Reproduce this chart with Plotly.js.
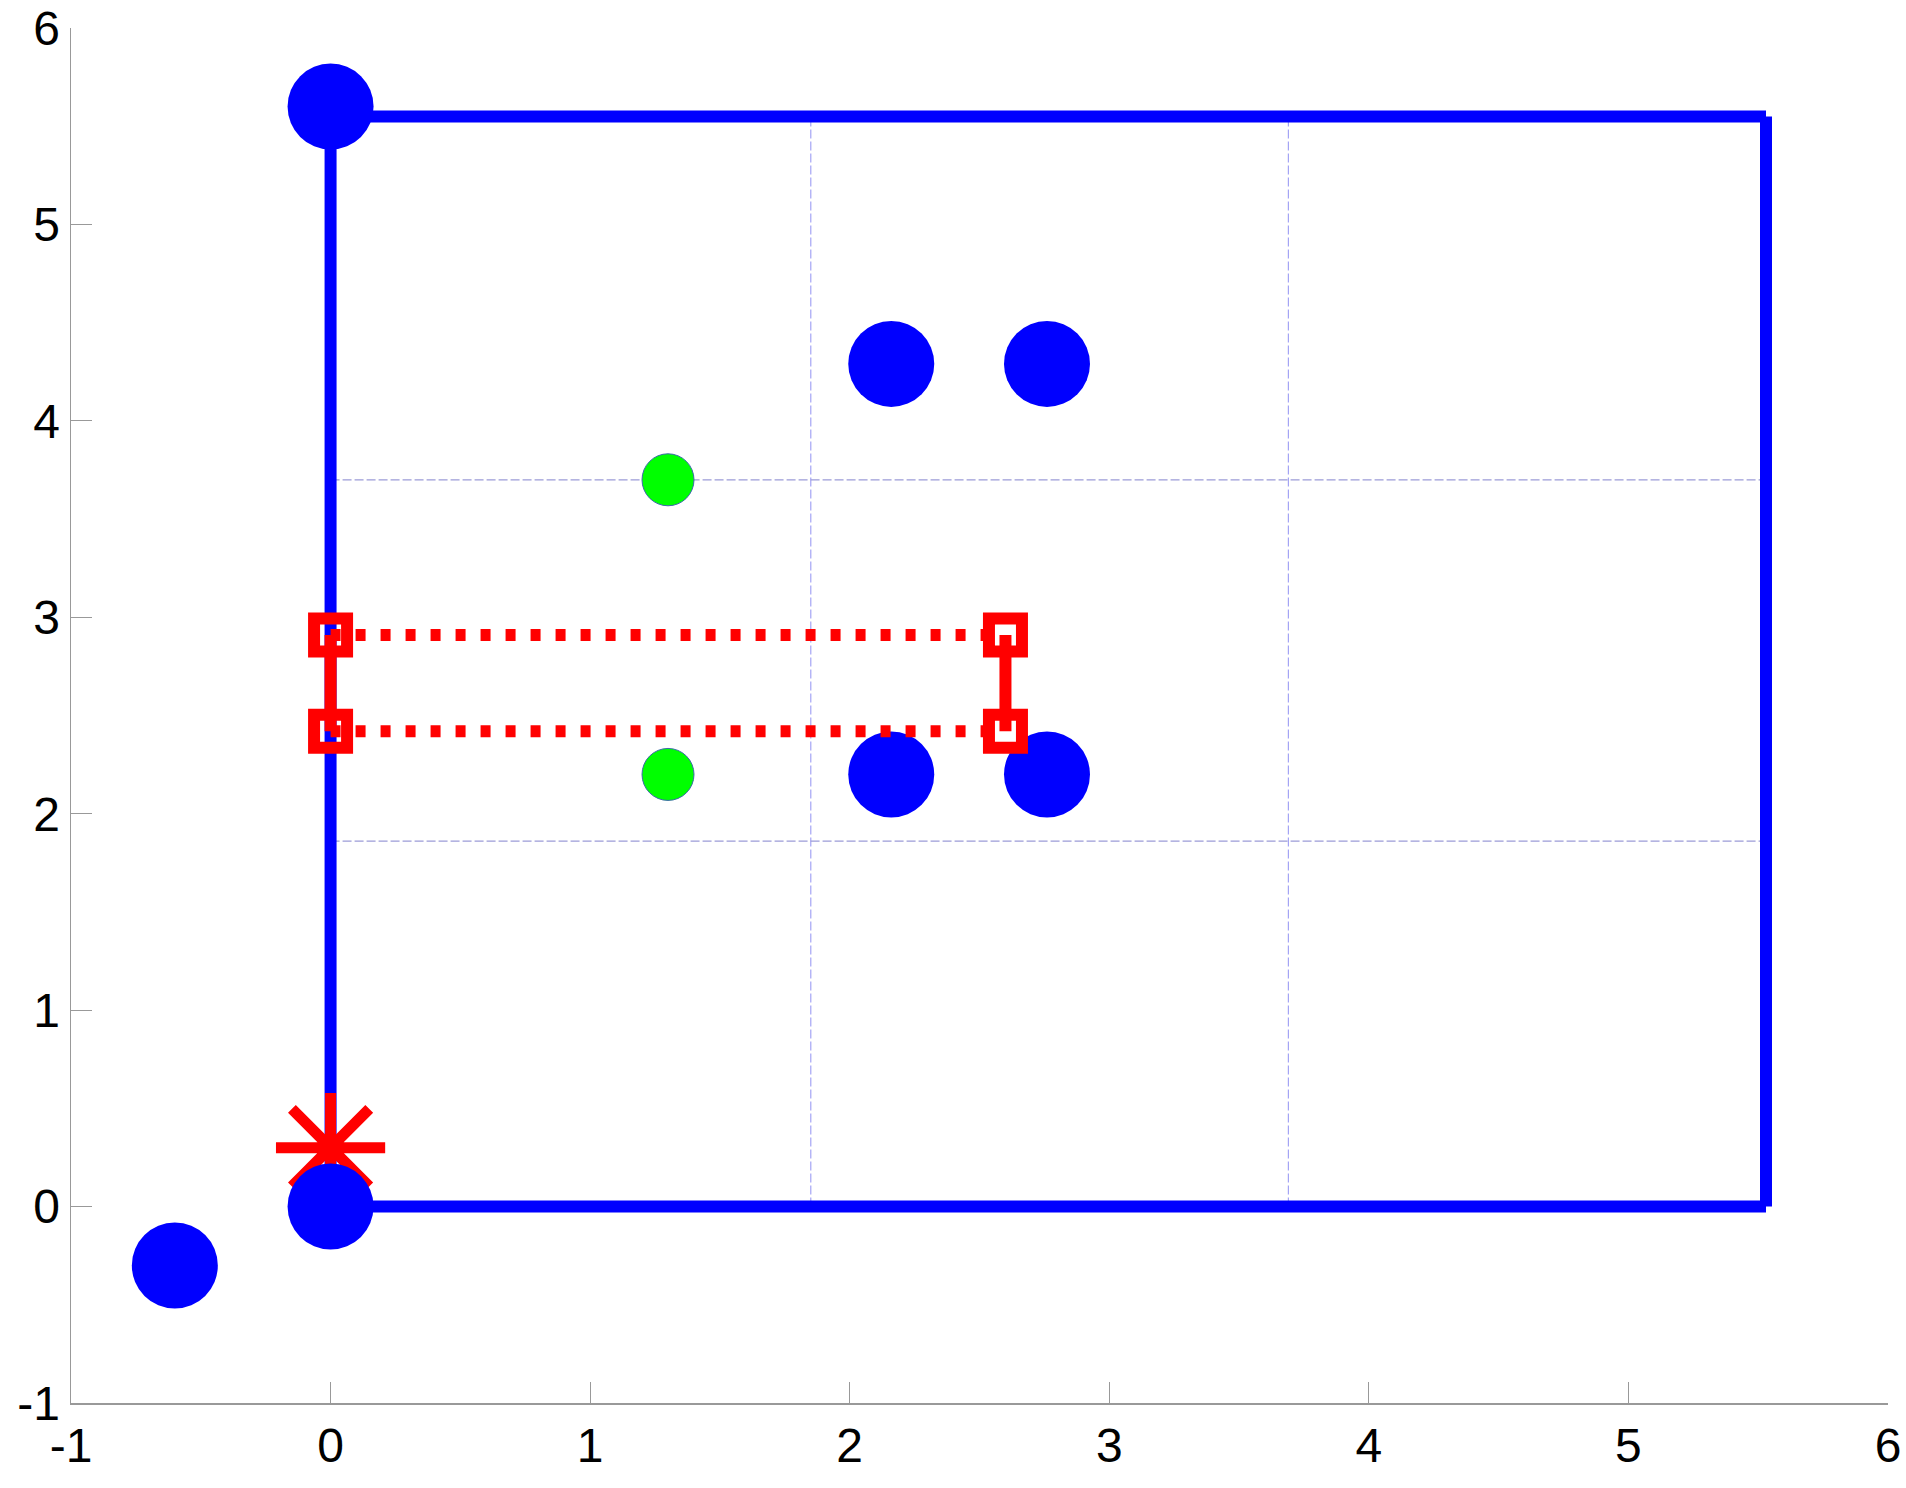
<!DOCTYPE html>
<html>
<head>
<meta charset="utf-8">
<script src="https://cdn.plot.ly/plotly-3.0.1.min.js"></script>
<style>html,body{margin:0;padding:0;background:#fff;}#chart{width:1906px;height:1488px;}</style>
</head>
<body>
<div id="chart"></div>
<script>
// Blue frame segments (null = break between segments)
const frameX = [0, 0, null, 0, 5.53, null, 5.53, 5.53, null, 0, 5.53];
const frameY = [0, 5.6, null, 5.55, 5.55, null, 5.55, 0, null, 0, 0];

// Dashed grid lines inside the frame
const gridVX = [1.85, 1.85, null, 3.69, 3.69];
const gridVY = [0, 5.55, null, 0, 5.55];
const gridHX = [0, 5.53, null, 0, 5.53];
const gridHY = [3.7, 3.7, null, 1.86, 1.86];

// Blue circles
const blueX = [0, 0, -0.6, 2.16, 2.76, 2.16, 2.76];
const blueY = [5.6, 0, -0.3, 4.29, 4.29, 2.2, 2.2];

// Green circles
const greenX = [1.3, 1.3];
const greenY = [3.7, 2.2];

// Red star
const starX = [0];
const starY = [0.3];

// Red dotted rungs and solid posts
const dotX = [0, 2.6, null, 0, 2.6];
const dotY = [2.91, 2.91, null, 2.42, 2.42];
const postX = [0, 0, null, 2.6, 2.6];
const postY = [2.42, 2.91, null, 2.42, 2.91];
const squareX = [0, 0, 2.6, 2.6];
const squareY = [2.91, 2.42, 2.91, 2.42];

const tickVals = [-1, 0, 1, 2, 3, 4, 5, 6];
const tickText = ['-1', '0', '1', '2', '3', '4', '5', '6'];

const traces = [
  {x: gridVX, y: gridVY, mode: 'lines', line: {color: '#a4a4f4', width: 1.2, dash: '9px,3px'}, hoverinfo: 'skip'},
  {x: gridHX, y: gridHY, mode: 'lines', line: {color: '#9c9cd8', width: 1.2, dash: '9px,3px'}, hoverinfo: 'skip'},
  {x: frameX, y: frameY, mode: 'lines', line: {color: '#0000ff', width: 12}, connectgaps: false},
  {x: starX, y: starY, mode: 'markers', marker: {symbol: 'asterisk-open', size: 91, color: '#ff0000', line: {color: '#ff0000', width: 11}}},
  {x: blueX, y: blueY, mode: 'markers', marker: {symbol: 'circle', size: 86, color: '#0000ff', line: {width: 0}}},
  {x: greenX, y: greenY, mode: 'markers', marker: {symbol: 'circle', size: 52, color: '#00ff00', line: {color: '#3a6aa8', width: 1}}},
  {x: dotX, y: dotY, mode: 'lines', line: {color: '#ff0000', width: 12, dash: '10px,15px'}, connectgaps: false},
  {x: postX, y: postY, mode: 'lines', line: {color: '#ff0000', width: 12}, connectgaps: false},
  {x: squareX, y: squareY, mode: 'markers', marker: {symbol: 'square-open', size: 33, color: '#ff0000', line: {color: '#ff0000', width: 12}}}
];

const axisCommon = {
  range: [-1, 6],
  tickmode: 'array',
  tickvals: tickVals,
  ticktext: tickText,
  ticks: 'inside',
  ticklen: 21,
  tickwidth: 1,
  tickcolor: '#999999',
  showline: true,
  linecolor: '#999999',
  linewidth: 1.5,
  showgrid: false,
  zeroline: false,
  mirror: false,
  ticklabeloverflow: 'allow',
  tickfont: {family: 'Liberation Sans, Arial, sans-serif', size: 48, color: '#000000'}
};

const layout = {
  width: 1906,
  height: 1488,
  margin: {l: 71, r: 18, t: 28, b: 85},
  paper_bgcolor: '#ffffff',
  plot_bgcolor: '#ffffff',
  showlegend: false,
  xaxis: Object.assign({}, axisCommon),
  yaxis: Object.assign({}, axisCommon)
};

Plotly.newPlot('chart', traces, layout, {displayModeBar: false, staticPlot: true});
</script>
</body>
</html>
